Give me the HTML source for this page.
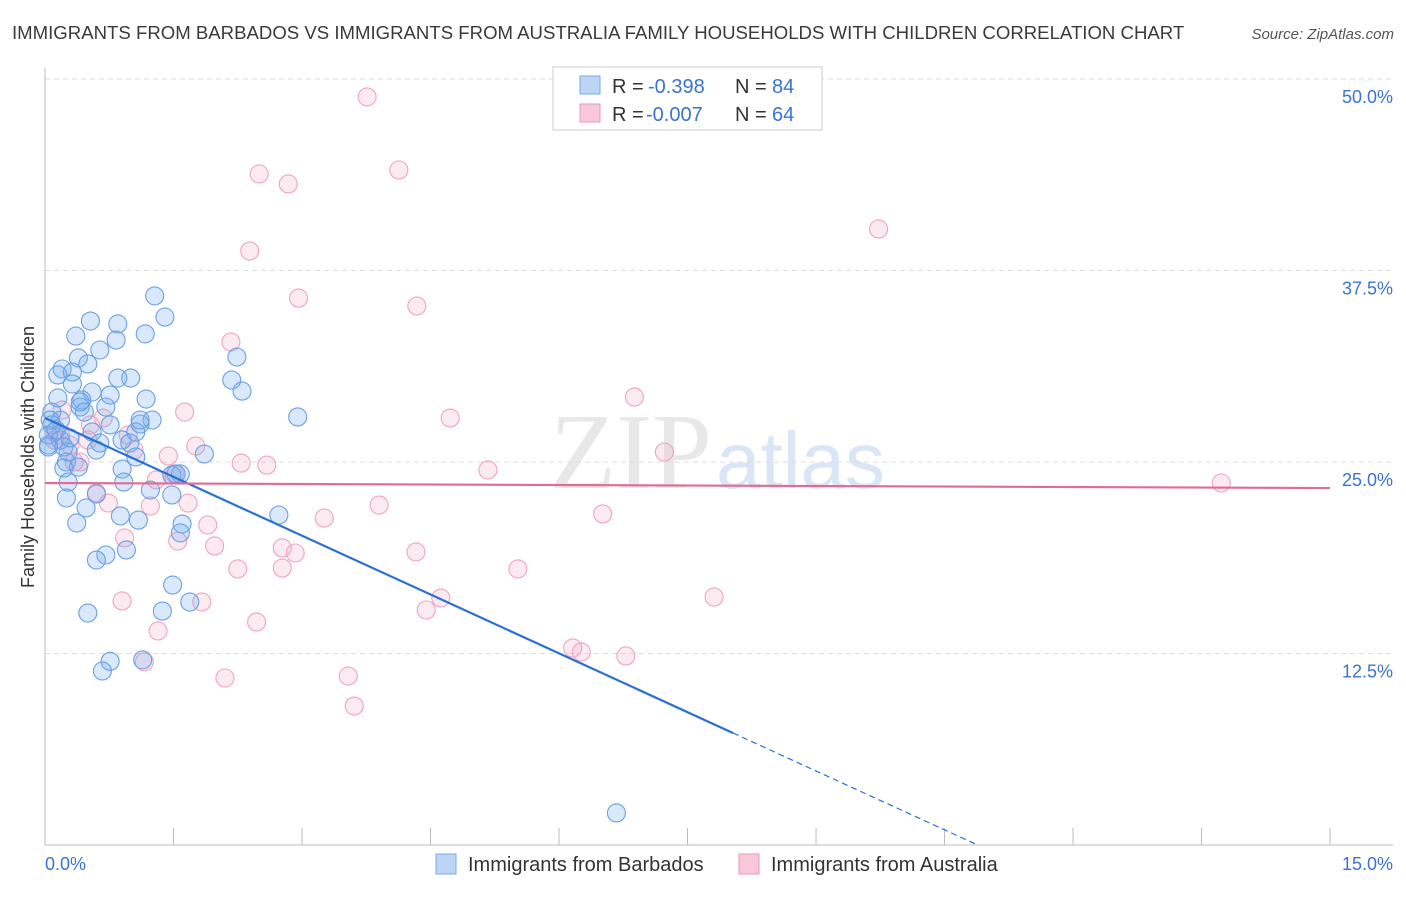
<!DOCTYPE html>
<html><head><meta charset="utf-8"><style>
body{margin:0;background:#fff;font-family:"Liberation Sans",sans-serif}
</style></head><body>
<svg width="1406" height="892" viewBox="0 0 1406 892" xmlns="http://www.w3.org/2000/svg">
<text x="12" y="39" font-size="18.6" fill="#3a3a3a">IMMIGRANTS FROM BARBADOS VS IMMIGRANTS FROM AUSTRALIA FAMILY HOUSEHOLDS WITH CHILDREN CORRELATION CHART</text>
<text x="1394" y="39" font-size="15" fill="#555" font-style="italic" text-anchor="end">Source: ZipAtlas.com</text>
<text x="712" y="488" font-size="108" font-family="Liberation Serif" fill="#e8e8e8" text-anchor="end">ZIP</text>
<text x="716" y="488" font-size="80" fill="#dae5f5">atlas</text>
<g id="grid"></g>
<g id="axes"></g>
<g id="pts"></g>
<g id="trend"></g>
<text transform="translate(34,457) rotate(-90)" font-size="18" fill="#333" text-anchor="middle">Family Households with Children</text>
<text x="45" y="870" font-size="18" fill="#3b73d1">0.0%</text>
<text x="1393" y="870" font-size="18" fill="#3b73d1" text-anchor="end">15.0%</text>
<g>
<rect x="553" y="67" width="269" height="63" fill="#fff" stroke="#ccc"/>
<rect x="580" y="76" width="20" height="18" fill="#bcd5f5" stroke="#7aa8e6"/>
<rect x="580" y="104" width="20" height="18" fill="#f8c8d8" stroke="#e99ab4"/>
<text x="612" y="93" font-size="20" fill="#333">R =</text>
<text x="648" y="93" font-size="20" fill="#3b73d1">-0.398</text>
<text x="735" y="93" font-size="20" fill="#333">N =</text>
<text x="772" y="93" font-size="20" fill="#3b73d1">84</text>
<text x="612" y="121" font-size="20" fill="#333">R =</text>
<text x="646" y="121" font-size="20" fill="#3b73d1">-0.007</text>
<text x="735" y="121" font-size="20" fill="#333">N =</text>
<text x="772" y="121" font-size="20" fill="#3b73d1">64</text>
</g>
<g>
<rect x="436" y="854" width="20" height="20" fill="#bcd5f5" stroke="#7aa8e6"/>
<text x="468" y="871" font-size="20" fill="#333">Immigrants from Barbados</text>
<rect x="739" y="854" width="20" height="20" fill="#f8c8d8" stroke="#e99ab4"/>
<text x="771" y="871" font-size="20" fill="#333">Immigrants from Australia</text>
</g>
</svg>
<script>
const blueX=[1.28,1.40,0.53,0.85,0.36,1.17,0.83,0.64,0.39,2.24,0.50,0.20,0.32,0.15,1.00,0.85,0.32,2.18,2.30,0.55,0.76,1.18,0.15,0.43,0.41,0.71,0.08,0.46,2.95,1.25,0.18,1.11,0.76,0.08,1.06,0.04,0.55,0.90,0.18,0.99,0.04,0.64,0.60,0.27,1.86,1.06,0.25,0.39,0.90,1.53,1.58,1.48,0.92,0.27,1.23,0.60,1.48,0.25,0.48,0.88,2.73,1.09,1.60,0.37,1.58,0.95,0.71,0.60,1.49,1.37,0.50,1.69,0.76,1.14,0.67,6.67,0.04,0.13,0.29,0.22,0.06,0.22,0.41,1.11];
const blueY=[35.84,34.46,34.20,34.01,33.22,33.36,32.96,32.31,31.79,31.85,31.40,31.07,30.87,30.68,30.48,30.48,30.09,30.35,29.63,29.57,29.37,29.11,29.18,29.05,28.59,28.59,28.26,28.26,27.94,27.74,27.74,27.48,27.42,27.42,26.96,26.76,26.96,26.44,26.44,26.24,26.11,26.24,25.78,25.65,25.52,25.33,25.00,24.67,24.54,24.22,24.22,24.15,23.69,23.69,23.17,22.91,22.85,22.65,22.00,21.48,21.54,21.21,20.95,21.02,20.37,19.26,18.93,18.60,16.97,15.27,15.14,15.86,11.99,12.08,11.36,2.09,25.98,27.09,26.57,25.98,27.74,24.61,28.92,27.74];
const pinkX=[3.76,4.13,2.50,2.84,9.73,2.39,2.96,4.34,2.17,6.88,1.63,4.73,0.68,0.20,0.53,7.23,1.76,0.11,0.97,1.04,1.44,2.29,2.59,0.34,5.17,13.73,0.41,1.51,1.30,0.60,0.74,1.23,1.67,3.90,3.26,6.51,1.90,0.93,1.55,1.98,2.77,2.92,4.33,2.25,2.77,5.52,4.62,4.45,7.81,1.83,0.90,2.47,1.32,6.16,6.26,6.78,1.16,3.54,2.10,3.61,0.18,0.29,0.11,0.50];
const pinkY=[48.83,44.06,43.80,43.15,40.21,38.77,35.70,35.18,32.83,29.24,28.26,27.87,27.87,28.39,27.42,25.65,26.04,26.96,26.76,25.78,25.39,24.93,24.80,25.00,24.48,23.63,25.00,24.22,23.83,22.98,22.32,22.13,22.32,22.19,21.34,21.61,20.89,20.04,19.84,19.52,19.39,19.06,19.13,18.02,18.08,18.02,16.12,15.34,16.19,15.86,15.93,14.56,13.97,12.86,12.60,12.34,11.95,11.03,10.90,9.07,26.76,26.11,26.44,26.44];
const yTicks=[12.5,25,37.5,50];
const yTickLabels=["12.5%","25.0%","37.5%","50.0%"];
const xTicks=[0,1.5,3,4.5,6,7.5,9,10.5,12,13.5,15];
const blueTrend=[27.87,-2.56];
const pinkTrend=[23.63,-0.022];
const NS="http://www.w3.org/2000/svg";
const sx=v=>45+v*85.67, sy=v=>845-v*15.32;
function mk(tag,attrs,parent){const e=document.createElementNS(NS,tag);for(const k in attrs)e.setAttribute(k,attrs[k]);document.getElementById(parent).appendChild(e);return e;}
yTicks.forEach((t,i)=>{
 const g=mk('line',{x1:45,x2:1393,y1:sy(t),y2:sy(t),stroke:'#ddd','stroke-dasharray':'5,4'},'grid');
 
 
 const l=mk('text',{x:1393,y:sy(t)+24,'font-size':18,fill:'#3b73d1','text-anchor':'end'},'grid');
 l.textContent=yTickLabels[i];
 
 
});
const ax=mk('line',{x1:45,x2:1393,y1:845,y2:845,stroke:'#bbb'},'axes');


const ay=mk('line',{x1:45,x2:45,y1:68,y2:845,stroke:'#bbb'},'axes');


xTicks.forEach(t=>{
 const k=mk('line',{x1:sx(t),x2:sx(t),y1:828,y2:845,stroke:'#bbb'},'axes');
 
 
});
pinkX.forEach((x,i)=>{
 const c=mk('circle',{cx:sx(x),cy:sy(pinkY[i]),r:9,fill:'rgba(244,170,198,0.25)',stroke:'#eea4bd','stroke-width':1.1},'pts');
 
 
});
blueX.forEach((x,i)=>{
 const c=mk('circle',{cx:sx(x),cy:sy(blueY[i]),r:9,fill:'rgba(120,172,238,0.28)',stroke:'#6aa0e4','stroke-width':1.1},'pts');
 
 
});
const bx1=8.03, bx2=-blueTrend[0]/blueTrend[1];
const b1=mk('line',{x1:sx(0),y1:sy(blueTrend[0]),x2:sx(bx1),y2:sy(blueTrend[0]+blueTrend[1]*bx1),stroke:'#2a6fd6','stroke-width':2.2},'trend');


const b2=mk('line',{x1:sx(bx1),y1:sy(blueTrend[0]+blueTrend[1]*bx1),x2:sx(bx2),y2:sy(0),stroke:'#2a6fd6','stroke-width':1.2,'stroke-dasharray':'6,4'},'trend');


const p1=mk('line',{x1:sx(0),y1:sy(pinkTrend[0]),x2:sx(15),y2:sy(pinkTrend[0]+pinkTrend[1]*15),stroke:'#e26a93','stroke-width':2.2},'trend');


</script>
</body></html>
